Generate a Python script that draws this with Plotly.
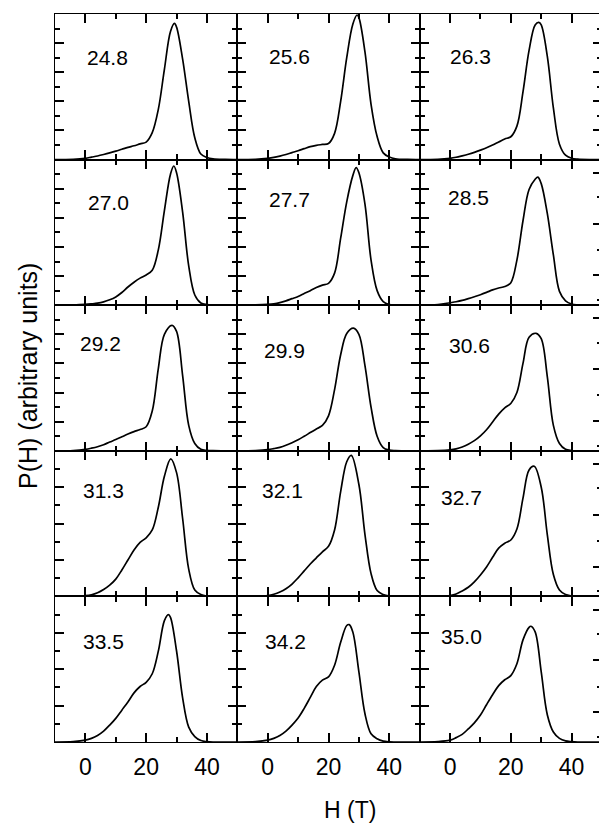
import plotly.graph_objects as go
from plotly.subplots import make_subplots

# ---------------- data ----------------
field_labels = ["24.8", "25.6", "26.3",
                "27.0", "27.7", "28.5",
                "29.2", "29.9", "30.6",
                "31.3", "32.1", "32.7",
                "33.5", "34.2", "35.0"]

row_ymax = [10, 10, 10, 8, 8]          # y-axis range of each row (arbitrary units)
x_range = [-10, 50]

# common H grid (T)
H_grid = [-10, -4, 0, 2, 4, 6, 8, 10, 12, 14, 16, 18, 20, 22, 24, 26, 28, 30, 32, 34, 36, 38, 40, 42, 46, 50]

p_248 = [0, 0.02, 0.09, 0.17, 0.25, 0.35, 0.46, 0.58, 0.71, 0.84, 0.95, 1.08, 1.2, 1.85, 3.45, 6.2, 8.8, 9.1, 6.9, 4.0, 1.5, 0.38, 0.14, 0.05, 0.01, 0]
p_256 = [0, 0.02, 0.09, 0.15, 0.24, 0.35, 0.48, 0.61, 0.75, 0.89, 0.98, 1.04, 1.1, 1.8, 4.0, 7.0, 9.3, 9.75, 7.4, 3.8, 1.58, 0.46, 0.18, 0.06, 0.01, 0]
p_263 = [0, 0.02, 0.09, 0.16, 0.26, 0.37, 0.5, 0.65, 0.81, 1.0, 1.21, 1.42, 1.57, 2.3, 4.65, 7.5, 9.25, 9.25, 7.1, 3.55, 1.06, 0.3, 0.09, 0.03, 0, 0]
p_270 = [0, 0.01, 0.05, 0.09, 0.14, 0.23, 0.37, 0.57, 0.87, 1.25, 1.58, 1.86, 2.08, 2.4, 3.8, 6.5, 9.0, 9.1, 6.4, 2.7, 0.7, 0.15, 0.04, 0.01, 0, 0]
p_277 = [0, 0.02, 0.06, 0.1, 0.18, 0.3, 0.45, 0.6, 0.8, 1.0, 1.22, 1.38, 1.5, 2.2, 4.6, 7.1, 8.9, 9.1, 6.95, 3.1, 1.0, 0.25, 0.05, 0.01, 0, 0]
p_285 = [0, 0.04, 0.17, 0.24, 0.33, 0.45, 0.58, 0.72, 0.88, 1.05, 1.18, 1.28, 1.55, 3.1, 5.8, 7.95, 8.65, 8.35, 6.3, 3.45, 0.95, 0.3, 0.08, 0.02, 0, 0]
p_292 = [0, 0.02, 0.1, 0.18, 0.28, 0.42, 0.6, 0.77, 0.96, 1.15, 1.32, 1.46, 1.65, 2.73, 5.65, 8.0, 8.55, 8.2, 5.17, 1.75, 0.5, 0.1, 0.03, 0.01, 0, 0]
p_299 = [0, 0.02, 0.08, 0.15, 0.24, 0.38, 0.56, 0.76, 1.0, 1.25, 1.5, 1.74, 2.4, 4.2, 6.6, 8.05, 8.4, 8.0, 5.85, 3.0, 1.0, 0.22, 0.05, 0.01, 0, 0]
p_306 = [0, 0.01, 0.06, 0.13, 0.26, 0.45, 0.7, 1.03, 1.45, 1.98, 2.52, 2.95, 3.25, 4.0, 6.0, 7.8, 8.05, 7.7, 5.1, 1.75, 0.5, 0.1, 0.02, 0, 0, 0]
p_313 = [0, 0.01, 0.04, 0.09, 0.2, 0.38, 0.62, 0.95, 1.45, 2.0, 2.55, 2.97, 3.22, 3.65, 4.9, 6.6, 7.55, 6.8, 4.28, 1.5, 0.35, 0.1, 0.02, 0, 0, 0]
p_321 = [0, 0.01, 0.05, 0.12, 0.24, 0.42, 0.68, 1.02, 1.4, 1.78, 2.12, 2.45, 2.75, 3.65, 5.76, 7.4, 7.6, 6.15, 3.4, 1.25, 0.32, 0.1, 0.02, 0, 0, 0]
p_327 = [0, 0.01, 0.05, 0.13, 0.3, 0.5, 0.8, 1.18, 1.62, 2.15, 2.65, 2.92, 3.1, 3.7, 5.4, 6.95, 7.1, 6.0, 3.4, 1.2, 0.35, 0.1, 0.03, 0.01, 0, 0]
p_335 = [0, 0.02, 0.1, 0.2, 0.36, 0.6, 0.93, 1.3, 1.75, 2.2, 2.7, 3.05, 3.28, 3.75, 4.99, 6.67, 6.85, 5.0, 2.43, 0.82, 0.3, 0.08, 0.02, 0, 0, 0]
p_342 = [0, 0.02, 0.1, 0.2, 0.36, 0.6, 0.93, 1.32, 1.85, 2.45, 3.05, 3.4, 3.58, 4.22, 5.48, 6.4, 6.05, 3.85, 1.55, 0.45, 0.18, 0.05, 0.01, 0, 0, 0]
p_350 = [0, 0.02, 0.1, 0.24, 0.42, 0.72, 1.05, 1.48, 2.05, 2.6, 3.1, 3.42, 3.65, 4.3, 5.61, 6.3, 6.05, 3.85, 1.5, 0.55, 0.2, 0.06, 0.02, 0, 0, 0]

# position and height of each main peak
peak_H = [29.3, 29.4, 29.2, 29.1, 29.1, 28.9, 28.5, 28.2, 28.3, 28.1, 27.5, 27.7, 27.3, 26.8, 26.6]
peak_P = [9.35, 9.93, 9.42, 9.56, 9.45, 8.8, 8.62, 8.42, 8.07, 7.56, 7.75, 7.15, 7.0, 6.45, 6.36]

curves_p = [p_248, p_256, p_263, p_270, p_277, p_285, p_292, p_299, p_306,
            p_313, p_321, p_327, p_335, p_342, p_350]

# odd tick marks seen on the right edge of the figure (rows 2-5), as fractions of the panel height
edge_major_frac = [0.205, 0.56, 0.91]
edge_minor_frac = [0.035, 0.38, 0.743]

# ---------------- layout / style ----------------
label_pos_x = [-0.1, -0.1, -0.8,
               0.2, -0.1, -1.4,
               -2.4, -1.8, -0.9,
               -1.3, -2.7, -3.6,
               -1.4, -1.6, -3.6]
label_pos_y_frac = [0.70, 0.71, 0.705,
                    0.705, 0.725, 0.74,
                    0.74, 0.687, 0.725,
                    0.725, 0.725, 0.677,
                    0.69, 0.69, 0.725]

FONT = "Liberation Sans, Arial, Helvetica, sans-serif"
AX_LW = 1.3
TW = 1.8
MAJ_LEN = 9
MIN_LEN = 5

fig = make_subplots(rows=5, cols=3, horizontal_spacing=0, vertical_spacing=0)

for i in range(15):
    r = i // 3 + 1
    c = i % 3 + 1
    ymax = row_ymax[r - 1]
    pts = [(h, p) for h, p in zip(H_grid, curves_p[i]) if abs(h - peak_H[i]) > 0.6]
    pts.append((peak_H[i], peak_P[i]))
    pts.sort()
    xs = [a for a, _ in pts]
    ys = [b for _, b in pts]
    fig.add_trace(go.Scatter(x=xs, y=ys, mode="lines",
                             line=dict(color="black", width=1.7, shape="spline", smoothing=1.0),
                             showlegend=False, hoverinfo="skip"),
                  row=r, col=c)
    fig.update_xaxes(range=x_range, showline=True, linecolor="black", linewidth=AX_LW,
                     mirror="ticks", ticks="inside", ticklen=MAJ_LEN, tickwidth=TW, tickcolor="black",
                     tick0=0, dtick=20,
                     minor=dict(ticks="inside", ticklen=MIN_LEN, tickwidth=TW, tickcolor="black",
                                tick0=0, dtick=10),
                     showgrid=False, zeroline=False,
                     showticklabels=(r == 5), ticklabelstandoff=4,
                     tickfont=dict(family=FONT, size=23, color="black"),
                     row=r, col=c)
    special = (c == 3 and r >= 2)
    fig.update_yaxes(range=[0, ymax], showline=True, linecolor="black", linewidth=AX_LW,
                     mirror=(True if special else "ticks"),
                     ticks="inside", ticklen=MAJ_LEN, tickwidth=TW, tickcolor="black",
                     tick0=0, dtick=2,
                     minor=dict(ticks="inside", ticklen=MIN_LEN, tickwidth=TW, tickcolor="black",
                                tick0=0, dtick=1),
                     showgrid=False, zeroline=False, showticklabels=False,
                     row=r, col=c)
    idx = "" if i == 0 else str(i + 1)
    fig.add_annotation(x=label_pos_x[i], y=label_pos_y_frac[i] * ymax,
                       xref="x" + idx, yref="y" + idx,
                       text=field_labels[i], showarrow=False,
                       xanchor="left", yanchor="middle",
                       font=dict(family=FONT, size=21, color="black"))

# companion axes: top x ticks and right y ticks for every panel (so ticks cross at shared edges)
extra = {}
for i in range(15):
    r = i // 3 + 1
    c = i % 3 + 1
    n = i + 1
    m = 15 + n
    ymax = row_ymax[r - 1]
    extra["xaxis%d" % m] = dict(overlaying="x%d" % n, anchor="y%d" % n, side="top",
                                range=x_range, showline=False, showgrid=False, zeroline=False,
                                showticklabels=False, ticks="inside", ticklen=MAJ_LEN,
                                tickwidth=TW, tickcolor="black", tick0=0, dtick=20,
                                minor=dict(ticks="inside", ticklen=MIN_LEN, tickwidth=TW,
                                           tickcolor="black", tick0=0, dtick=10))
    if c == 3 and r >= 2:
        yspec = dict(range=[0, 1], tickmode="array", tickvals=edge_major_frac,
                     minor=dict(ticks="inside", ticklen=MIN_LEN, tickwidth=TW, tickcolor="black",
                                tickmode="array", tickvals=edge_minor_frac))
    else:
        yspec = dict(range=[0, ymax], tick0=0, dtick=2,
                     minor=dict(ticks="inside", ticklen=MIN_LEN, tickwidth=TW, tickcolor="black",
                                tick0=0, dtick=1))
    extra["yaxis%d" % m] = dict(overlaying="y%d" % n, anchor="x%d" % n, side="right",
                                showline=False, showgrid=False, zeroline=False,
                                showticklabels=False, ticks="inside", ticklen=MAJ_LEN,
                                tickwidth=TW, tickcolor="black", **yspec)
    fig.add_trace(go.Scatter(x=[None], y=[None], xaxis="x%d" % m, yaxis="y%d" % n,
                             mode="lines", showlegend=False, hoverinfo="skip"))
    fig.add_trace(go.Scatter(x=[None], y=[None], xaxis="x%d" % n, yaxis="y%d" % m,
                             mode="lines", showlegend=False, hoverinfo="skip"))
fig.update_layout(**extra)

W, H = 602, 823
ML, MR, MT, MB = 55, 0, 14, 81
pw = W - ML - MR
ph = H - MT - MB

fig.add_annotation(x=(350 - ML) / pw, y=(H - MB - 810) / ph, xref="paper", yref="paper",
                   text="H (T)", showarrow=False, xanchor="center", yanchor="middle",
                   font=dict(family=FONT, size=23, color="black"))
fig.add_annotation(x=(28 - ML) / pw, y=(H - MB - 376) / ph, xref="paper", yref="paper",
                   text="P(H) (arbitrary units)", showarrow=False, textangle=-90,
                   xanchor="center", yanchor="middle",
                   font=dict(family=FONT, size=25, color="black"))

fig.update_layout(width=W, height=H, margin=dict(l=ML, r=MR, t=MT, b=MB, autoexpand=False),
                  paper_bgcolor="white", plot_bgcolor="white")

fig.write_html("out.html",
               post_script="document.documentElement.style.overflow='hidden';"
                           "document.body.style.overflow='hidden';document.body.style.margin='0';")
